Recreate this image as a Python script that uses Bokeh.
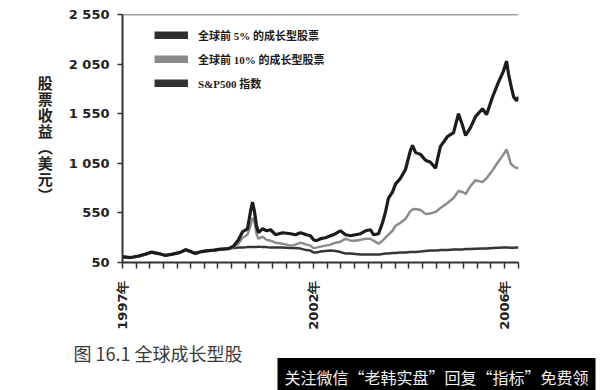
import math
from bokeh.plotting import figure
from bokeh.models import FixedTicker, Span, Legend, LegendItem, Range1d, Title
from bokeh.embed import file_html
from bokeh.resources import INLINE

# x positions in tick units (one tick step per axis tick, 1997 at 0, 2002 at 14, 2006 at 28)
t = [0.00, 0.59, 1.17, 1.69, 2.13, 2.64, 3.15, 3.67, 4.18, 4.62,
     4.99, 5.35, 5.79, 6.30, 6.74, 7.18, 7.77, 8.14, 8.50, 8.80,
     9.16, 9.38, 9.53, 9.68, 9.82, 9.97, 10.26, 10.56, 10.85, 11.22,
     11.73, 12.32, 12.68, 13.05, 13.49, 13.78, 14.00, 14.22, 14.52, 14.88,
     15.25, 15.62, 15.98, 16.35, 16.72, 17.08, 17.45, 17.82, 18.18, 18.40,
     18.77, 19.06, 19.28, 19.50, 19.79, 20.01, 20.38, 20.75, 21.11, 21.26,
     21.48, 21.85, 22.21, 22.58, 22.95, 23.09, 23.31, 23.83, 24.27, 24.63,
     24.93, 25.15, 25.51, 25.88, 26.39, 26.69, 27.13, 27.57, 27.93, 28.15,
     28.30, 28.45, 28.67, 28.89, 29.03]

top5 = [110, 100, 115, 135, 155, 140, 120, 135, 150, 180,
        160, 140, 160, 170, 175, 185, 190, 215, 280, 360,
        390, 560, 660, 560, 420, 350, 390, 370, 380, 330,
        350, 340, 330, 350, 330, 320, 280, 270, 290, 300,
        320, 340, 370, 330, 320, 330, 340, 370, 380, 330,
        340, 450, 560, 700, 760, 840, 900, 990, 1180, 1230,
        1160, 1140, 1080, 1060, 1000, 1090, 1220, 1320, 1360, 1550,
        1430, 1330, 1410, 1520, 1600, 1540, 1720, 1870, 1980, 2080,
        1950, 1850, 1720, 1680, 1720]

top10 = [105, 100, 110, 130, 150, 140, 120, 135, 150, 175,
         160, 140, 160, 165, 170, 180, 185, 205, 240, 300,
         330, 420, 500, 460, 340, 290, 310, 280, 270, 250,
         240, 220, 230, 250, 230, 220, 195, 200, 210, 220,
         230, 250, 260, 290, 270, 270, 280, 290, 290, 270,
         240, 270, 300, 330, 370, 420, 450, 490, 570, 585,
         590, 580, 540, 545, 560, 575, 600, 650, 700, 770,
         760, 740, 820, 880, 860, 900, 980, 1070, 1140, 1190,
         1130, 1050, 1020, 1000, 1010]

sp500 = [105, 100, 110, 130, 150, 140, 125, 135, 150, 170,
         160, 145, 160, 170, 175, 180, 190, 195, 200, 200,
         205, 205, 205, 205, 205, 210, 205, 205, 200, 200,
         200, 195, 195, 190, 175, 170, 150, 150, 160, 165,
         170, 165, 155, 140, 140, 135, 130, 130, 130, 130,
         130, 135, 140, 140, 145, 145, 150, 150, 155, 155,
         155, 160, 165, 170, 170, 170, 175, 175, 180, 180,
         182, 185, 185, 188, 190, 190, 195, 198, 200, 200,
         200, 198, 198, 200, 200]

y_ticks = [50, 550, 1050, 1550, 2050, 2550]
y_tick_labels = ["50", "550", "1 050", "1 550", "2 050", "2 550"]
x_ticks = list(range(30))
x_label_ticks = [0, 14, 28]
x_tick_labels = ["1997年", "2002年", "2006年"]
legend_labels = ["全球前 5% 的成长型股票", "全球前 10% 的成长型股票", "S&P500 指数"]
legend_colors = ["#2e2e2e", "#8a8a8a", "#333333"]
y_title = "股\n票\n收\n益\n︵\n美\n元\n︶"
caption = "图 16.1    全球成长型股"
watermark = "关注微信“老韩实盘”回复“指标”免费领"

p = figure(width=600, height=390, output_backend="svg", toolbar_location=None,
           x_range=Range1d(0, 29.03), y_range=Range1d(50, 2550),
           min_border_left=122, min_border_right=82, min_border_top=14,
           min_border_bottom=128)
p.outline_line_color = None
p.grid.visible = False
p.background_fill_color = "white"
p.border_fill_color = "white"

p.line(t, sp500, line_color="#353535", line_width=2.5)
p.line(t, top10, line_color="#8c8c8c", line_width=2.5)
p.line(t, top5, line_color="#1c1c1c", line_width=3.2)

items = []
for lab, col, ys in zip(legend_labels, legend_colors, [top5, top10, sp500]):
    r = p.line(t, ys, line_color=col, line_width=8, visible=False)
    items.append(LegendItem(label=lab, renderers=[r]))

legend = Legend(items=items, location=(32, 171), padding=0, margin=0, spacing=8,
                glyph_width=34, glyph_height=8, label_height=12, label_standoff=10,
                border_line_color=None, background_fill_alpha=0,
                label_text_font="'Liberation Serif', 'Noto Sans CJK SC', serif",
                label_text_font_size="11px", label_text_font_style="bold",
                label_text_color="#1a1a1a")
p.add_layout(legend)

p.add_layout(Span(location=2550, dimension="width", line_color="#444444", line_width=1.5))

xa = p.xaxis[0]
xa.ticker = FixedTicker(ticks=x_ticks)
ov = {k: "" for k in x_ticks}
for k, s in zip(x_label_ticks, x_tick_labels):
    ov[k] = s
xa.major_label_overrides = ov
xa.major_label_orientation = math.pi / 2
xa.minor_tick_line_color = None
xa.major_tick_in = 0
xa.major_tick_out = 6
xa.major_tick_line_width = 1.5
xa.major_tick_line_color = "#333333"
xa.axis_line_width = 2
xa.axis_line_color = "#333333"
xa.major_label_standoff = 12
xa.major_label_text_font = "DejaVu Sans"
xa.major_label_text_font_style = "bold"
xa.major_label_text_font_size = "13px"
xa.major_label_text_color = "#222222"

ya = p.yaxis[0]
ya.ticker = FixedTicker(ticks=y_ticks)
ya.major_label_overrides = {k: s for k, s in zip(y_ticks, y_tick_labels)}
ya.minor_tick_line_color = None
ya.major_tick_in = 0
ya.major_tick_out = 5
ya.major_tick_line_width = 1.5
ya.major_tick_line_color = "#333333"
ya.axis_line_width = 2
ya.axis_line_color = "#333333"
ya.major_label_standoff = 8
ya.major_label_text_font = "DejaVu Sans"
ya.major_label_text_font_style = "bold"
ya.major_label_text_font_size = "13px"
ya.major_label_text_color = "#222222"
ya.axis_label = y_title
ya.axis_label_orientation = "horizontal"
ya.axis_label_standoff = 13
ya.axis_label_text_font = "Noto Sans CJK SC"
ya.axis_label_text_font_style = "bold"
ya.axis_label_text_font_size = "15px"
ya.axis_label_text_line_height = 0.76
ya.axis_label_text_color = "#222222"

# caption and watermark as titles in the bottom panel
cap = Title(text=caption, align="left", vertical_align="bottom", offset=-49,
            standoff=11, text_font="Noto Sans CJK SC", text_font_size="18px",
            text_font_style="normal", text_color="#3a3a3a")
p.add_layout(cap, "below")

wm = Title(text=watermark, align="left", vertical_align="bottom", offset=155,
           standoff=-31, text_font="Noto Sans CJK SC", text_font_size="16px",
           text_font_style="normal", text_color="#f0f0f0",
           background_fill_color="black")
if "padding" in Title.properties():
    wm.padding = 7
p.add_layout(wm, "below")

open("out.html", "w").write(file_html(p, INLINE))
